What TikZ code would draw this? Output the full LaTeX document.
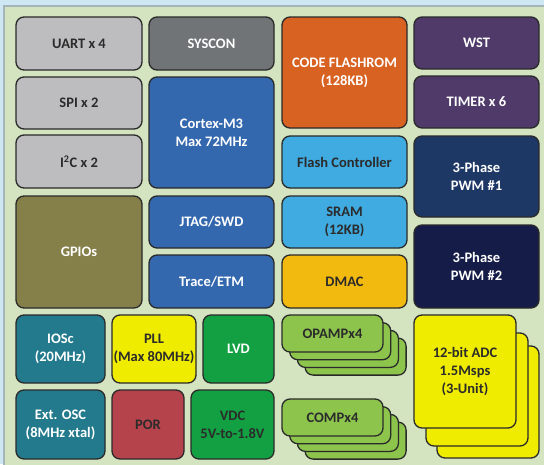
\documentclass[tikz,border=0pt]{standalone}
\usepackage{fontspec}
\setmainfont{Carlito}
\definecolor{bgblue}{HTML}{CFE7F3}
\definecolor{panel}{HTML}{D4E4C0}
\definecolor{paneledge}{HTML}{A4B6BA}
\definecolor{edge}{HTML}{2A2A2A}
\definecolor{darktext}{HTML}{2B2B2B}
\definecolor{cgray}{HTML}{BDBCBE}
\definecolor{csys}{HTML}{707476}
\definecolor{cblue}{HTML}{3468AE}
\definecolor{colive}{HTML}{857F4A}
\definecolor{corange}{HTML}{D86222}
\definecolor{cpurple}{HTML}{4F3A6A}
\definecolor{clblue}{HTML}{3FABE0}
\definecolor{camber}{HTML}{F2B90F}
\definecolor{cnavy}{HTML}{1E3866}
\definecolor{cnavyb}{HTML}{161C48}
\definecolor{cteal}{HTML}{237A8C}
\definecolor{cyellow}{HTML}{F0EC00}
\definecolor{cgreen}{HTML}{13A043}
\definecolor{cred}{HTML}{B5434C}
\definecolor{clgreen}{HTML}{8CC44C}
\begin{document}
\begin{tikzpicture}[x=1pt,y=-1pt,
  blk/.style={draw=edge, line width=1.3pt, rounded corners=8pt, align=center,
    font=\fontsize{14.5}{18}\selectfont\bfseries, inner sep=0pt, text=darktext},
  wt/.style={text=white},
  wh/.style 2 args={minimum width=#1pt, minimum height=#2pt}]
\useasboundingbox (0,0) rectangle (544,464);
\fill[bgblue] (0,0) rectangle (544,464);
\draw[fill=panel, draw=paneledge, line width=1.5pt] (4,6) rectangle (552,472);

% column 1 & 2
\node[blk, fill=cgray, wh={126}{53}] (uart) at (79,43.5) {UART x 4};
\node[blk, fill=csys, wt, wh={125}{53}] (syscon) at (211.5,43.5) {SYSCON};
\node[blk, fill=cgray, wh={126}{52}] (spi) at (79,103) {SPI x 2};
\node[blk, fill=cgray, wh={126}{53}] (i2c) at (79,161.5) {I\textsuperscript{2}C x 2};
\node[blk, fill=cblue, wt, wh={125}{111}] (cortex) at (211.5,132.5) {Cortex-M3\\Max 72MHz};
\node[blk, fill=colive, wt, wh={126}{112}] (gpio) at (79,252) {GPIOs};
\node[blk, fill=cblue, wt, wh={125}{52}] (jtag) at (211.5,222) {JTAG/SWD};
\node[blk, fill=cblue, wt, wh={125}{53}] (trace) at (211.5,281.5) {Trace/ETM};

% column 3
\node[blk, fill=corange, wt, wh={125}{111}] (flashrom) at (344.5,72.5) {CODE FLASHROM\\(128KB)};
\node[blk, fill=clblue, wh={125}{52}] (flashctl) at (344.5,162) {Flash Controller};
\node[blk, fill=clblue, wh={125}{52}] (sram) at (344.5,222) {SRAM\\(12KB)};
\node[blk, fill=camber, wh={125}{53}] (dmac) at (344.5,281.5) {DMAC};

% column 4
\node[blk, fill=cpurple, wt, wh={125}{52}] (wst) at (476.5,43) {WST};
\node[blk, fill=cpurple, wt, wh={125}{52}] (timer) at (476.5,102) {TIMER x 6};
\node[blk, fill=cnavy, wt, wh={125}{81}] (pwm1) at (476.5,176.5) {3-Phase\\PWM \#1};
\node[blk, fill=cnavyb, wt, wh={125}{83}] (pwm2) at (476.5,266.5) {3-Phase\\PWM \#2};

% bottom left
\node[blk, fill=cteal, wt, wh={89}{68}] (iosc) at (60.5,349) {IOSc\\(20MHz)};
\node[blk, fill=cyellow, wh={84}{68}] (pll) at (154,349) {PLL\\(Max 80MHz)};
\node[blk, fill=cgreen, wt, wh={71}{68}] (lvd) at (238.5,349) {LVD};
\node[blk, fill=cteal, wt, wh={89}{69}] (extosc) at (60.5,424.5) {Ext. OSC\\(8MHz xtal)};
\node[blk, fill=cred, wh={72}{69}] (por) at (148,424.5) {POR};
\node[blk, fill=cgreen, wh={83}{69}] (vdc) at (232.5,424.5) {VDC\\5V-to-1.8V};

% OPAMP stack
\node[blk, fill=clgreen, wh={101}{37}] (opamp3) at (355.6,356.6) {};
\node[blk, fill=clgreen, wh={101}{37}] (opamp2) at (347.9,348.9) {};
\node[blk, fill=clgreen, wh={101}{37}] (opamp1) at (340.2,341.2) {};
\node[blk, fill=clgreen, wh={101}{37}] (opamp) at (332.5,333.5) {OPAMPx4};

% COMP stack
\node[blk, fill=clgreen, wh={101}{37}] (comp3) at (355.6,440.6) {};
\node[blk, fill=clgreen, wh={101}{37}] (comp2) at (347.9,432.9) {};
\node[blk, fill=clgreen, wh={101}{37}] (comp1) at (340.2,425.2) {};
\node[blk, fill=clgreen, wh={101}{37}] (comp) at (332.5,417.5) {COMPx4};

% ADC stack
\node[blk, fill=cyellow, wh={102}{112}] (adc2) at (488,402) {};
\node[blk, fill=cyellow, wh={102}{113}] (adc1) at (477,389.5) {};
\node[blk, fill=cyellow, wh={102}{113}] (adc) at (465,371.5) {12-bit ADC\\1.5Msps\\(3-Unit)};
\end{tikzpicture}
\end{document}
